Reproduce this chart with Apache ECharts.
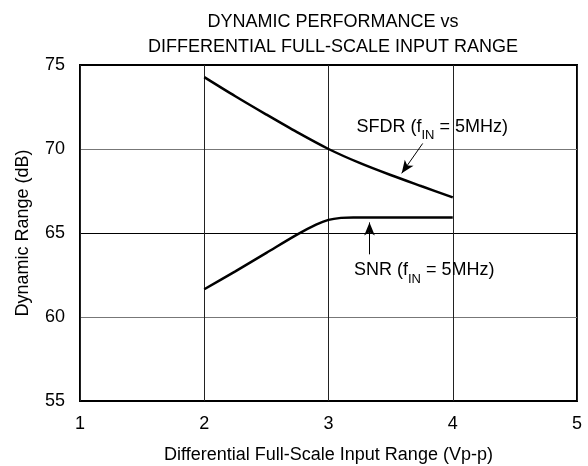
<!DOCTYPE html>
<html>
<head>
<meta charset="utf-8">
<script src="https://cdn.jsdelivr.net/npm/echarts@6/dist/echarts.min.js"></script>
<style>html,body{margin:0;padding:0;background:#fff;}#c{width:588px;height:466px;}</style>
</head>
<body>
<div id="c"></div>
<script>
// Data
var sfdrX = [2, 2.25, 2.5, 2.75, 3, 3.25, 3.5, 3.75, 4];
var sfdrY = [74.28, 73.14, 72.05, 70.99, 70.0, 69.17, 68.45, 67.78, 67.12];
var snrX = [2, 2.25, 2.5, 2.75, 2.9, 3, 3.1, 3.2, 3.35, 3.5, 3.75, 4];
var snrY = [61.65, 62.72, 63.82, 64.92, 65.5, 65.78, 65.9, 65.93, 65.92, 65.92, 65.92, 65.92];
var xTicks = [1, 2, 3, 4, 5];
var yTicks = [55, 60, 65, 70, 75];
// annotation anchors (data coords)
var sfdrLabelAt = [3.835, 71.29];
var sfdrArrow = [[3.758, 70.33], [3.589, 68.55]];
var snrLabelAt = [3.77, 62.77];
var snrArrow = [[3.33, 63.73], [3.33, 65.63]];

function pairs(xs, ys) { return xs.map(function (x, i) { return [x, ys[i]]; }); }

var FONT = 'Liberation Sans, Arial, sans-serif';
var rich = {
  t: { fontSize: 18, color: '#000', fontFamily: FONT },
  s: { fontSize: 13, color: '#000', fontFamily: FONT, verticalAlign: 'bottom', padding: [0, 0, -6, 0] }
};

var chart = echarts.init(document.getElementById('c'));
chart.setOption({
  animation: false,
  backgroundColor: '#fff',
  title: {
    text: 'DYNAMIC PERFORMANCE vs\nDIFFERENTIAL FULL-SCALE INPUT RANGE',
    left: 328, top: 5, textAlign: 'center',
    textStyle: { fontSize: 18, fontWeight: 'normal', color: '#000', fontFamily: FONT, lineHeight: 25 }
  },
  grid: { left: 80, right: 11, top: 65, bottom: 65, show: true, borderColor: '#000', borderWidth: 2, containLabel: false, outerBoundsMode: 'none' },
  xAxis: {
    type: 'value', min: xTicks[0], max: xTicks[xTicks.length - 1], interval: 1,
    name: 'Differential Full-Scale Input Range (Vp-p)', nameLocation: 'middle', nameGap: 45,
    nameTextStyle: { fontSize: 18, color: '#000', fontFamily: FONT },
    axisLine: { show: false }, axisTick: { show: false },
    axisLabel: { fontSize: 18, color: '#000', fontFamily: FONT, margin: 14 },
    splitLine: { show: true, lineStyle: { color: '#222', width: 1 } }
  },
  yAxis: {
    type: 'value', min: yTicks[0], max: yTicks[yTicks.length - 1], interval: 5,
    name: 'Dynamic Range (dB)', nameLocation: 'middle', nameGap: 48,
    nameTextStyle: { fontSize: 18, color: '#000', fontFamily: FONT },
    axisLine: { show: false }, axisTick: { show: false },
    axisLabel: { fontSize: 18, color: '#000', fontFamily: FONT, margin: 15 },
    splitLine: { show: true, lineStyle: { color: ['#000', '#777', '#000', '#777', '#000'], width: 1 } }
  },
  series: [
    {
      type: 'line', name: 'SFDR', data: pairs(sfdrX, sfdrY), smooth: 0.3, showSymbol: false,
      lineStyle: { color: '#000', width: 2.5 }, z: 5,
      markPoint: {
        symbol: 'circle', symbolSize: 0, silent: true,
        label: { show: true, position: 'inside', formatter: '{t|SFDR (f}{s|IN}{t| = 5MHz)}', rich: rich },
        data: [{ coord: sfdrLabelAt }]
      },
      markLine: {
        silent: true, symbol: ['none', 'arrow'], symbolSize: [8, 13],
        lineStyle: { color: '#000', width: 1, type: 'solid' }, label: { show: false },
        data: [[{ coord: sfdrArrow[0] }, { coord: sfdrArrow[1] }]]
      }
    },
    {
      type: 'line', name: 'SNR', data: pairs(snrX, snrY), smooth: 0.3, showSymbol: false,
      lineStyle: { color: '#000', width: 2.5 }, z: 5,
      markPoint: {
        symbol: 'circle', symbolSize: 0, silent: true,
        label: { show: true, position: 'inside', formatter: '{t|SNR (f}{s|IN}{t| = 5MHz)}', rich: rich },
        data: [{ coord: snrLabelAt }]
      },
      markLine: {
        silent: true, symbol: ['none', 'arrow'], symbolSize: [8, 13],
        lineStyle: { color: '#000', width: 1, type: 'solid' }, label: { show: false },
        data: [
          [{ coord: snrArrow[0] }, { coord: snrArrow[1] }],
          [{ yAxis: 65, symbol: 'none', lineStyle: { width: 2, color: '#000' } }, { yAxis: 65, xAxis: 5, symbol: 'none' }]
        ]
      }
    }
  ]
});
</script>
</body>
</html>
